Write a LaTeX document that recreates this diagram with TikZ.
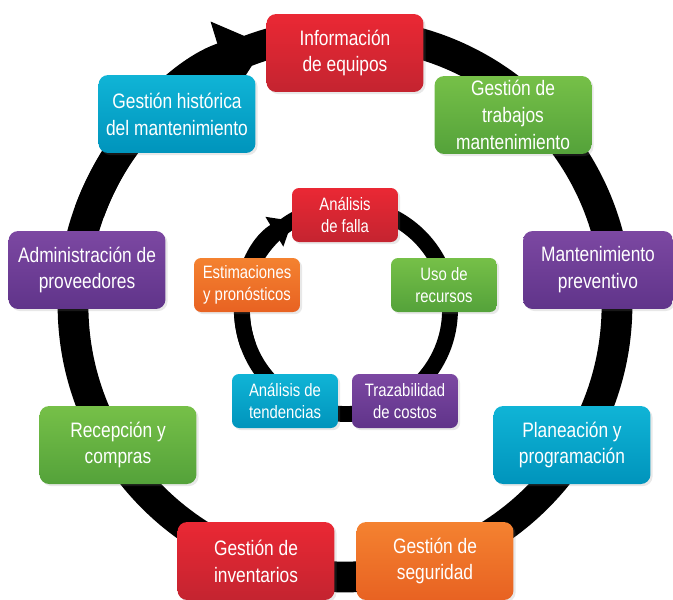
\documentclass[tikz,border=0pt]{standalone}
\usepackage{fontspec}
\setmainfont{Liberation Sans}[FakeStretch=0.83]
\usetikzlibrary{arrows.meta,shadows,calc}
\definecolor{cycr}{RGB}{234,40,52}
\definecolor{cycrd}{RGB}{196,36,48}
\definecolor{cycg}{RGB}{118,192,72}
\definecolor{cycgd}{RGB}{84,162,58}
\definecolor{cycp}{RGB}{124,72,162}
\definecolor{cycpd}{RGB}{96,52,138}
\definecolor{cycc}{RGB}{16,180,214}
\definecolor{cyccd}{RGB}{0,148,188}
\definecolor{cyco}{RGB}{244,130,48}
\definecolor{cycod}{RGB}{232,98,34}

\begin{document}
\begin{tikzpicture}[
  x=0.02cm, y=0.02cm,
  box/.style={
    rectangle, rounded corners=5.5pt,
    minimum width=3.14cm, minimum height=1.56cm,
    align=center, text=white,
    inner xsep=3pt, inner ysep=2pt,
    font=\fontsize{11.9}{15.3}\selectfont,
    drop shadow={opacity=0.18,shadow xshift=1.2pt,shadow yshift=-1.2pt}
  },
  ibox/.style={box, rounded corners=4pt,
    minimum width=2.12cm, minimum height=1.08cm,
    font=\fontsize{10.2}{12.6}\selectfont},
  redbox/.style={top color=cycr,bottom color=cycrd},
  grnbox/.style={top color=cycg,bottom color=cycgd},
  purbox/.style={top color=cycp,bottom color=cycpd},
  cynbox/.style={top color=cycc,bottom color=cyccd},
  orgbox/.style={top color=cyco,bottom color=cycod},
  ring/.style={line width=17.5pt,color=black},
  iring/.style={line width=9pt,color=black}
]
\useasboundingbox (0,0) rectangle (673,-599);

\coordinate (oc) at (345,-305);
\coordinate (ic) at (346,-310);

\draw[ring] (oc) circle[radius=272];
\draw[ring,-{Triangle[width=42pt,length=26pt]}]
  ($(oc)+(160:272)$) arc[start angle=160,end angle=107,radius=272];

\draw[iring] (ic) circle[radius=104];
\draw[iring,-{Triangle[width=19pt,length=12pt]}]
  ($(ic)+(200:104)$) arc[start angle=200,end angle=121,radius=104];

\node[box,redbox] (info) at (345,-53) {Información\\de equipos};
\node[box,grnbox] (trab) at (513,-115) {Gestión de\\trabajos\\mantenimiento};
\node[box,purbox,minimum width=3.0cm] (prev) at (598,-270) {Mantenimiento\\preventivo};
\node[box,cynbox] (plan) at (572,-445) {Planeación y\\programación};
\node[box,orgbox] (segu) at (435,-561) {Gestión de\\seguridad};
\node[box,redbox] (inve) at (256,-561) {Gestión de\\inventarios};
\node[box,grnbox] (reco) at (118,-445) {Recepción y\\compras};
\node[box,purbox] (prov) at (87,-270) {Administración de\\proveedores};
\node[box,cynbox] (hist) at (177,-114) {Gestión histórica\\del mantenimiento};

\node[ibox,redbox] (fall) at (345,-215) {Análisis\\de falla};
\node[ibox,grnbox] (recu) at (444,-285) {Uso de\\recursos};
\node[ibox,purbox] (cost) at (405,-401) {Trazabilidad\\de costos};
\node[ibox,cynbox] (tend) at (285,-401) {Análisis de\\tendencias};
\node[ibox,orgbox] (esti) at (247,-285) {Estimaciones\\y pronósticos};
\end{tikzpicture}
\end{document}
